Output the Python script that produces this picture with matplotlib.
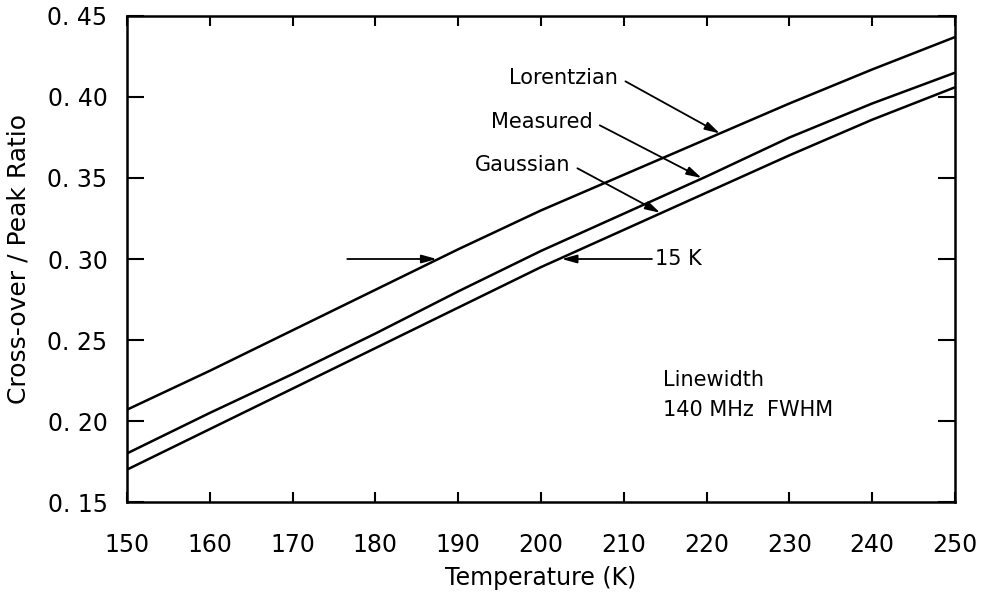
import matplotlib
matplotlib.use("Agg")
import matplotlib.pyplot as plt

# ---- data ----
temperature = [150, 160, 170, 180, 190, 200, 210, 220, 230, 240, 250]
lorentzian = [0.207, 0.231, 0.256, 0.281, 0.306, 0.330, 0.352, 0.374, 0.396, 0.417, 0.437]
measured = [0.180, 0.205, 0.229, 0.254, 0.280, 0.305, 0.328, 0.351, 0.375, 0.396, 0.415]
gaussian = [0.170, 0.195, 0.220, 0.245, 0.270, 0.295, 0.318, 0.341, 0.364, 0.386, 0.406]

x_ticks = [150, 160, 170, 180, 190, 200, 210, 220, 230, 240, 250]
y_ticks = [0.15, 0.20, 0.25, 0.30, 0.35, 0.40, 0.45]
y_tick_labels = ["0. 15", "0. 20", "0. 25", "0. 30", "0. 35", "0. 40", "0. 45"]

# annotation anchors: (label, text position, arrow head position)
curve_labels = [
    ("Lorentzian", (209.9, 0.4105), (221.6, 0.3775)),
    ("Measured", (206.8, 0.3833), (219.4, 0.350)),
    ("Gaussian", (204.1, 0.3568), (214.4, 0.3285)),
]
gap_level = 0.30
gap_left = (176.6, 187.4)   # arrow from left to Lorentzian
gap_right = (213.4, 202.5)  # arrow from "15 K" to Gaussian

plt.rcParams['font.family'] = ['DejaVu Sans']

fig = plt.figure(figsize=(9.86, 5.92), dpi=100)
ax = fig.add_axes([0.1288, 0.152, 0.8398, 0.821])

for series in (lorentzian, measured, gaussian):
    ax.plot(temperature, series, color='black', lw=1.8, solid_capstyle='butt')

ax.set_xlim(150, 250)
ax.set_ylim(0.15, 0.45)
ax.set_xticks(x_ticks)
ax.set_xticklabels([str(t) for t in x_ticks])
ax.set_yticks(y_ticks)
ax.set_yticklabels(y_tick_labels)

ax.tick_params(axis='x', direction='in', length=7, width=1.5, top=True,
               labelsize=17, pad=22)
ax.tick_params(axis='y', direction='in', length=12, width=1.5, right=True,
               labelsize=17, pad=14)
for s in ax.spines.values():
    s.set_linewidth(1.8)

ax.set_xlabel("Temperature (K)", fontsize=17, labelpad=7)
ax.set_ylabel("Cross-over / Peak Ratio", fontsize=18, labelpad=12)

arrow_kw = dict(arrowstyle='-|>,head_length=0.9,head_width=0.25',
                color='black', lw=1.3, shrinkA=2, shrinkB=0)

for label, txt, head in curve_labels:
    ax.annotate("", xy=head, xytext=txt, arrowprops=arrow_kw)
    ax.text(txt[0] - 0.6, txt[1] + 0.001, label, ha='right', va='center',
            fontsize=15)

ax.annotate("", xy=(gap_left[1], gap_level), xytext=(gap_left[0], gap_level),
            arrowprops=dict(arrow_kw, shrinkA=0))
ax.annotate("", xy=(gap_right[1], gap_level), xytext=(gap_right[0], gap_level),
            arrowprops=dict(arrow_kw, shrinkA=0))
ax.text(gap_right[0] + 0.4, gap_level, "15 K", ha='left', va='center',
        fontsize=15)

ax.text(214.7, 0.2253, "Linewidth", ha='left', va='center', fontsize=15)
ax.text(214.7, 0.2068, "140 MHz  FWHM", ha='left', va='center', fontsize=15)

fig.savefig("out.png", dpi=100)
